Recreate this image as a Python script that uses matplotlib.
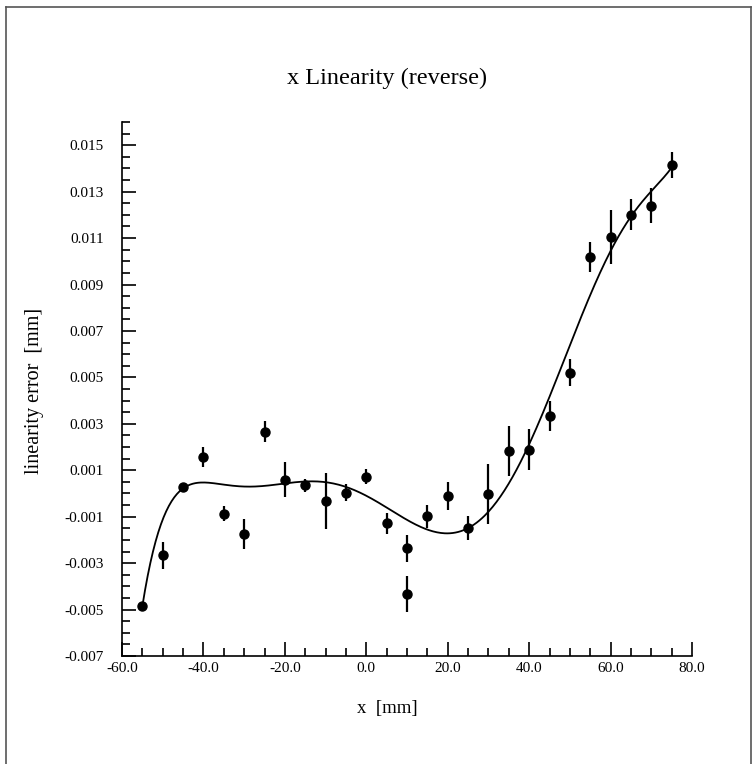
import numpy as np
import matplotlib.pyplot as plt
from matplotlib.ticker import MultipleLocator, FormatStrFormatter
from matplotlib.lines import Line2D

plt.rcParams['font.family'] = ['Liberation Serif', 'DejaVu Serif']

# measured points (x in mm, linearity error in mm)
x_pos = [-55, -50, -45, -40, -35, -30, -25, -20, -15, -10, -5, 0, 5, 10, 10,
         15, 20, 25, 30, 35, 40, 45, 50, 55, 60, 65, 70, 75]
lin_err = [-0.00484, -0.00267, 0.00026, 0.00155, -0.00087, -0.00174, 0.00266,
           0.00060, 0.00035, -0.00031, 0.00004, 0.00073, -0.00128, -0.00237,
           -0.00434, -0.00099, -0.00010, -0.00149, -0.00001, 0.00183, 0.00189,
           0.00335, 0.00521, 0.01018, 0.01104, 0.01201, 0.01240, 0.01414]
err_bar = [0.00012, 0.00057, 0.00008, 0.00043, 0.00032, 0.00066, 0.00046,
           0.00075, 0.00029, 0.00120, 0.00037, 0.00033, 0.00045, 0.00060,
           0.00077, 0.00050, 0.00060, 0.00053, 0.00130, 0.00108, 0.00089,
           0.00064, 0.00057, 0.00065, 0.00117, 0.00066, 0.00075, 0.00055]

fig = plt.figure(figsize=(7.56, 7.64), dpi=100)
ax = fig.add_axes([0.1614, 0.1414, 0.7540, 0.6989])

# weighted polynomial fit through the points
coef = np.polyfit(x_pos, lin_err, 7, w=1.0 / np.array(err_bar))
xf = np.linspace(-55, 75, 400)
ax.plot(xf, np.polyval(coef, xf), color='black', lw=1.3)

ax.errorbar(x_pos, lin_err, yerr=err_bar, fmt='o', color='black',
            ms=6.5, elinewidth=1.6, capsize=0)

ax.set_xlim(-60, 80)
ax.set_ylim(-0.007, 0.016)
ax.spines['top'].set_visible(False)
ax.spines['right'].set_visible(False)
for s in ['left', 'bottom']:
    ax.spines[s].set_linewidth(1.2)

ax.xaxis.set_major_locator(MultipleLocator(20))
ax.xaxis.set_minor_locator(MultipleLocator(5))
ax.yaxis.set_minor_locator(MultipleLocator(0.0005))
ax.set_yticks(np.arange(-0.007, 0.0151, 0.002))
ax.xaxis.set_major_formatter(FormatStrFormatter('%.1f'))
ax.yaxis.set_major_formatter(FormatStrFormatter('%.3f'))
ax.tick_params(which='major', direction='in', length=10, width=1.2,
               labelsize=11)
ax.tick_params(axis='y', which='major', pad=13)
ax.tick_params(axis='x', which='major', pad=4)
ax.tick_params(which='minor', direction='in', length=6, width=1.2)

fig.text(0.512, 0.898, 'x Linearity (reverse)', fontsize=17.5,
         ha='center', va='center')
fig.text(0.512, 0.073, 'x  [mm]', fontsize=13.5, ha='center', va='center')
fig.text(0.045, 0.488, 'linearity error  [mm]', fontsize=14.5,
         rotation=90, ha='center', va='center')

# outer frame
for xs, ys in [([0.008, 0.008], [0, 0.991]), ([0.008, 0.994], [0.991, 0.991]),
               ([0.994, 0.994], [0, 0.991])]:
    fig.add_artist(Line2D(xs, ys, color='#555555', lw=1.2,
                          transform=fig.transFigure))

fig.savefig('out.png', dpi=100)
